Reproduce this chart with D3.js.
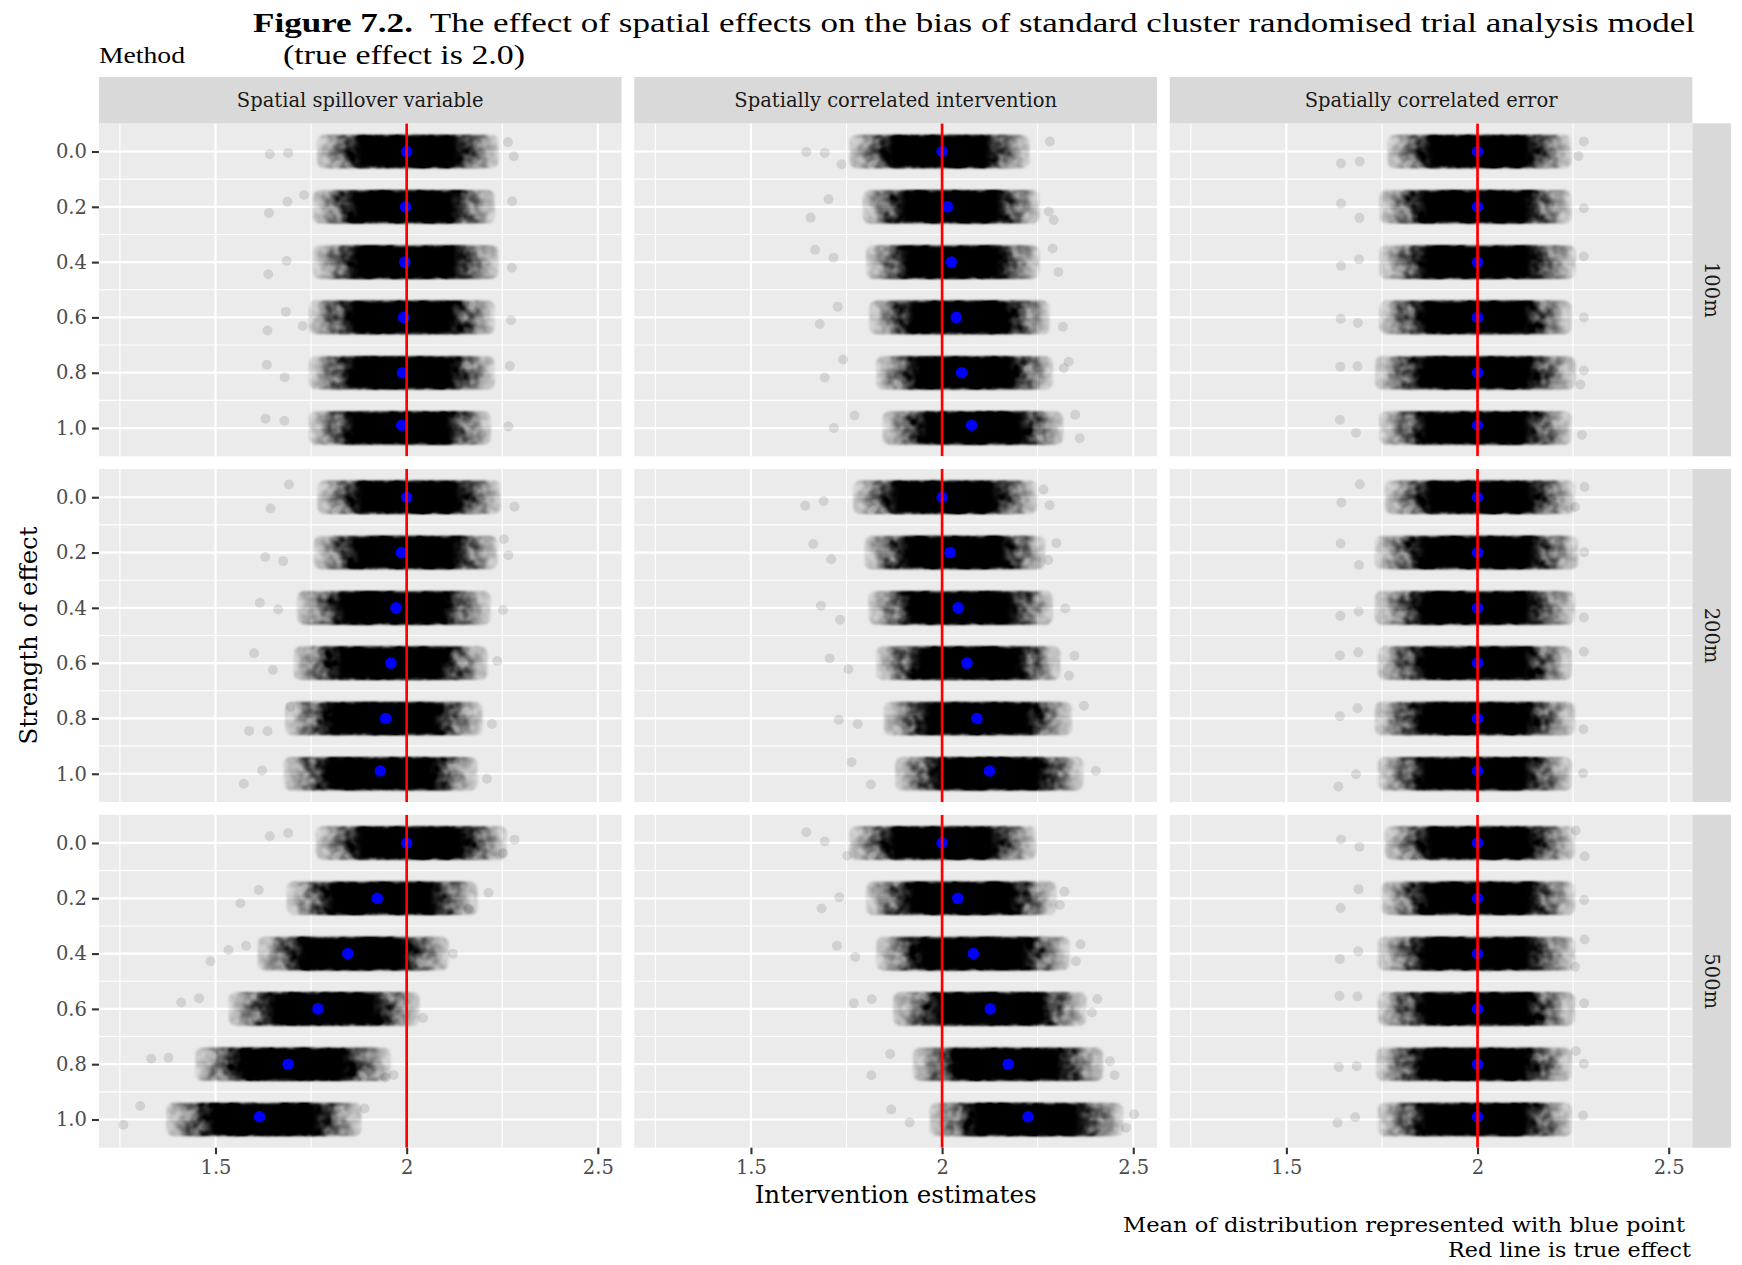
<!DOCTYPE html>
<html><head><meta charset="utf-8">
<script src="https://cdn.jsdelivr.net/npm/d3@7/dist/d3.min.js"></script>
<style>body{margin:0;background:#fff} svg{display:block}</style>
</head><body>
<svg id="chart" width="1742" height="1265"></svg>
<script>
// ---------------- DATA ----------------
const methods = ["Spatial spillover variable", "Spatially correlated intervention", "Spatially correlated error"];
const distances = ["100m", "200m", "500m"];
const strengths = [0.0, 0.2, 0.4, 0.6, 0.8, 1.0];
const meanStrengths = [0.0, 0.2, 0.4, 0.6, 0.8, 0.99];
const xTicks = [1.5, 2, 2.5];
const xTickLabels = ["1.5", "2", "2.5"];
const xMinor = [1.25, 1.75, 2.25];
const yTicks = [0.0, 0.2, 0.4, 0.6, 0.8, 1.0];
const yTickLabels = ["0.0", "0.2", "0.4", "0.6", "0.8", "1.0"];
const yMinor = [0.1, 0.3, 0.5, 0.7, 0.9];
const trueEffect = 2.0;

// means (blue points)
const spill100Mean = [2.000, 1.997, 1.995, 1.992, 1.989, 1.987];
const spill200Mean = [2.000, 1.986, 1.972, 1.959, 1.945, 1.931];
const spill500Mean = [2.000, 1.923, 1.846, 1.768, 1.690, 1.615];
const int100Mean = [2.000, 2.014, 2.024, 2.037, 2.051, 2.077];
const int200Mean = [2.000, 2.021, 2.042, 2.065, 2.091, 2.124];
const int500Mean = [2.000, 2.041, 2.082, 2.126, 2.173, 2.225];
const err100Mean = [2.000, 2.000, 2.000, 2.000, 2.000, 2.000];
const err200Mean = [2.000, 2.000, 2.000, 2.000, 2.000, 2.000];
const err500Mean = [2.000, 2.000, 2.000, 2.000, 2.000, 2.000];

// visible extent of each jittered cloud
const spill100Lo = [1.765, 1.754, 1.754, 1.744, 1.744, 1.744];
const spill100Hi = [2.241, 2.231, 2.241, 2.231, 2.231, 2.221];
const spill200Lo = [1.766, 1.757, 1.713, 1.704, 1.682, 1.678];
const spill200Hi = [2.247, 2.238, 2.220, 2.212, 2.199, 2.185];
const spill500Lo = [1.762, 1.686, 1.610, 1.534, 1.447, 1.371];
const spill500Hi = [2.262, 2.186, 2.110, 2.034, 1.958, 1.882];
const int100Lo = [1.757, 1.792, 1.801, 1.809, 1.827, 1.844];
const int100Hi = [2.229, 2.255, 2.255, 2.282, 2.290, 2.317];
const int200Lo = [1.767, 1.797, 1.807, 1.827, 1.847, 1.877];
const int200Hi = [2.249, 2.270, 2.290, 2.310, 2.340, 2.370];
const int500Lo = [1.757, 1.801, 1.827, 1.871, 1.923, 1.967];
const int500Hi = [2.247, 2.299, 2.334, 2.378, 2.422, 2.474];
const err100Lo = [1.764, 1.743, 1.743, 1.743, 1.732, 1.743];
const err100Hi = [2.246, 2.246, 2.257, 2.246, 2.257, 2.246];
const err200Lo = [1.757, 1.731, 1.731, 1.739, 1.731, 1.739];
const err200Hi = [2.255, 2.264, 2.255, 2.247, 2.255, 2.247];
const err500Lo = [1.757, 1.748, 1.739, 1.739, 1.735, 1.739];
const err500Hi = [2.255, 2.255, 2.255, 2.255, 2.247, 2.247];

// isolated points: [strength, estimate, vertical jitter]
const spill100Out = [[0,1.642,0.010],[0,1.690,0.005],[0,2.280,0.017],[0,2.265,-0.034],
 [0.2,1.640,0.022],[0.2,1.688,-0.018],[0.2,1.732,-0.043],[0.2,2.276,-0.020],
 [0.4,1.638,0.044],[0.4,1.686,-0.004],[0.4,2.275,0.020],
 [0.6,1.636,0.047],[0.6,1.684,-0.020],[0.6,1.728,0.031],[0.6,2.273,0.010],
 [0.8,1.634,-0.029],[0.8,1.681,0.016],[0.8,2.270,-0.024],
 [1.0,1.631,-0.034],[1.0,1.680,-0.026],[1.0,2.266,-0.006]];
const spill200Out = [[0,1.692,-0.046],[0,1.644,0.041],[0,2.282,0.034],
 [0.2,1.630,0.016],[0.2,1.677,0.031],[0.2,2.266,0.010],[0.2,2.254,-0.048],
 [0.4,1.616,-0.018],[0.4,1.664,0.006],[0.4,2.252,0.008],
 [0.6,1.601,-0.036],[0.6,1.650,0.025],[0.6,2.237,-0.008],
 [0.8,1.588,0.045],[0.8,1.636,0.046],[0.8,1.696,-0.042],[0.8,2.223,0.020],
 [1.0,1.574,0.036],[1.0,1.622,-0.012],[1.0,2.210,0.018]];
const spill500Out = [[0,1.642,-0.024],[0,1.690,-0.036],[0,2.282,-0.012],[0,2.252,0.037],
 [0.2,1.565,0.018],[0.2,1.613,-0.030],[0.2,2.214,-0.020],[0.2,2.162,0.039],
 [0.4,1.487,0.028],[0.4,1.534,-0.013],[0.4,1.580,-0.028],[0.4,2.121,0.001],
 [0.6,1.410,-0.023],[0.6,1.457,-0.038],[0.6,2.043,0.033],
 [0.8,1.332,-0.020],[0.8,1.377,-0.023],[0.8,1.966,0.039],[0.8,1.945,0.048],
 [1.0,1.259,0.019],[1.0,1.303,-0.049],[1.0,1.890,-0.040]];
const int100Out = [[0,1.645,0.002],[0,1.693,0.005],[0,1.737,0.046],[0,2.282,-0.036],
 [0.2,1.703,-0.027],[0.2,1.656,0.039],[0.2,2.292,0.048],[0.2,2.279,0.017],
 [0.4,1.668,-0.045],[0.4,1.716,-0.016],[0.4,2.304,0.036],[0.4,2.289,-0.049],
 [0.6,1.727,-0.039],[0.6,1.680,0.024],[0.6,2.316,0.034],
 [0.8,1.741,-0.048],[0.8,1.693,0.017],[0.8,2.331,-0.040],[0.8,2.318,-0.016],
 [1.0,1.717,0.000],[1.0,1.771,-0.045],[1.0,2.348,-0.048],[1.0,2.360,0.037]];
const int200Out = [[0,1.642,0.031],[0,1.690,0.014],[0,2.281,0.029],[0,2.265,-0.028],
 [0.2,1.663,-0.031],[0.2,1.710,0.024],[0.2,2.299,-0.034],[0.2,2.278,0.027],
 [0.4,1.683,-0.008],[0.4,1.733,0.043],[0.4,2.322,0.002],
 [0.6,1.706,-0.017],[0.6,1.755,0.022],[0.6,2.346,-0.027],[0.6,2.332,0.045],
 [0.8,1.730,0.005],[0.8,1.779,0.020],[0.8,2.371,-0.046],
 [1.0,1.763,-0.042],[1.0,1.814,0.039],[1.0,2.402,-0.011]];
const int500Out = [[0,1.645,-0.039],[0,1.693,-0.005],[0,1.752,0.046],
 [0.2,1.685,0.037],[0.2,1.731,-0.004],[0.2,2.320,-0.024],[0.2,2.308,0.024],
 [0.4,1.725,-0.028],[0.4,1.773,0.012],[0.4,2.362,-0.034],[0.4,2.350,0.028],
 [0.6,1.769,-0.020],[0.6,1.816,-0.035],[0.6,2.406,-0.036],[0.6,2.392,0.013],
 [0.8,1.815,0.040],[0.8,1.864,-0.037],[0.8,2.451,0.040],[0.8,2.439,-0.011],
 [1.0,1.867,-0.036],[1.0,1.915,0.011],[1.0,2.502,-0.019],[1.0,2.481,0.030]];
const err100Out = [[0,1.643,0.043],[0,1.692,0.036],[0,2.278,-0.036],[0,2.264,0.016],
 [0.2,1.643,-0.012],[0.2,1.691,0.040],[0.2,2.278,0.005],
 [0.4,1.643,0.013],[0.4,1.690,-0.010],[0.4,2.278,-0.020],
 [0.6,1.642,0.005],[0.6,1.687,0.020],[0.6,2.278,0.000],
 [0.8,1.641,-0.022],[0.8,1.686,-0.023],[0.8,2.278,-0.008],[0.8,2.269,0.043],
 [1.0,1.640,-0.030],[1.0,1.682,0.017],[1.0,2.273,0.025]];
const err200Out = [[0,1.692,-0.047],[0,1.644,0.019],[0,2.280,-0.037],[0,2.255,0.035],
 [0.2,1.642,-0.033],[0.2,1.690,0.045],[0.2,2.279,-0.001],
 [0.4,1.641,0.029],[0.4,1.689,0.013],[0.4,2.278,0.035],
 [0.6,1.640,-0.028],[0.6,1.688,-0.039],[0.6,2.278,-0.041],
 [0.8,1.640,-0.008],[0.8,1.686,-0.037],[0.8,2.277,0.039],
 [1.0,1.636,0.046],[1.0,1.682,0.002],[1.0,2.276,-0.002]];
const err500Out = [[0,1.643,-0.013],[0,1.691,0.014],[0,2.280,0.048],[0,2.257,-0.045],
 [0.2,1.642,0.035],[0.2,1.689,-0.033],[0.2,2.279,0.006],
 [0.4,1.640,0.020],[0.4,1.688,-0.008],[0.4,2.280,-0.051],[0.4,2.255,0.048],
 [0.6,1.639,-0.047],[0.6,1.686,-0.045],[0.6,2.279,-0.020],
 [0.8,1.637,0.010],[0.8,1.684,0.007],[0.8,2.278,-0.002],[0.8,2.257,-0.048],
 [1.0,1.634,0.012],[1.0,1.680,-0.008],[1.0,2.276,-0.014]];

// panel table built from the arrays (rows = distance, cols = method)
const panels = [
  [ {mean:spill100Mean, lo:spill100Lo, hi:spill100Hi, out:spill100Out},
    {mean:int100Mean,   lo:int100Lo,   hi:int100Hi,   out:int100Out},
    {mean:err100Mean,   lo:err100Lo,   hi:err100Hi,   out:err100Out} ],
  [ {mean:spill200Mean, lo:spill200Lo, hi:spill200Hi, out:spill200Out},
    {mean:int200Mean,   lo:int200Lo,   hi:int200Hi,   out:int200Out},
    {mean:err200Mean,   lo:err200Lo,   hi:err200Hi,   out:err200Out} ],
  [ {mean:spill500Mean, lo:spill500Lo, hi:spill500Hi, out:spill500Out},
    {mean:int500Mean,   lo:int500Lo,   hi:int500Hi,   out:int500Out},
    {mean:err500Mean,   lo:err500Lo,   hi:err500Hi,   out:err500Out} ]
];

// ---------------- LAYOUT ----------------
const svg = d3.select("#chart");
const serif = "'DejaVu Serif', serif";
const titleFont = "'Liberation Serif', serif";
const plotLeft = 98.9, plotRight = 1692.4, plotTop = 123.3, plotBottom = 1147.7, gap = 12.8;
const panelW = (plotRight - plotLeft - 2 * gap) / 3;
const panelH = (plotBottom - plotTop - 2 * gap) / 3;

const colScale = d3.scaleBand().domain(methods).range([plotLeft, plotRight])
  .paddingInner(gap / (panelW + gap)).paddingOuter(0);
const rowScale = d3.scaleBand().domain(distances).range([plotTop, plotBottom])
  .paddingInner(gap / (panelH + gap)).paddingOuter(0);

const x = d3.scaleLinear().domain([1.195, 2.562]).range([0, panelW]);
const y = d3.scaleLinear().domain([-0.102, 1.102]).range([0, panelH]);

svg.append("rect").attr("width", 1742).attr("height", 1265).attr("fill", "#fff");

const defs = svg.append("defs");
function gradient(id, stops) {
  const gr = defs.append("linearGradient").attr("id", id)
    .attr("x1", "0").attr("x2", "1").attr("y1", "0").attr("y2", "0");
  stops.forEach(([o, a]) => gr.append("stop").attr("offset", o).attr("stop-color", "#000").attr("stop-opacity", a));
}
gradient("fringeGrad", [[0,0.12],[0.05,0.26],[0.1,0.48],[0.17,0.72],[0.25,0.9],[0.32,1],[0.68,1],[0.75,0.9],[0.83,0.72],[0.9,0.48],[0.95,0.26],[1,0.12]]);
gradient("coreGrad", [[0,0],[0.13,1],[0.87,1],[1,0]]);

const fN = defs.append("filter").attr("id", "noisy").attr("x", "-6%").attr("y", "-40%").attr("width", "112%").attr("height", "180%");
fN.append("feGaussianBlur").attr("in", "SourceGraphic").attr("stdDeviation", 1.3).attr("result", "b");
fN.append("feTurbulence").attr("type", "fractalNoise").attr("baseFrequency", 0.085).attr("numOctaves", 2).attr("seed", 7).attr("result", "n");
fN.append("feColorMatrix").attr("in", "n").attr("type", "matrix")
  .attr("values", "0 0 0 0 0  0 0 0 0 0  0 0 0 0 0  1.7 0 0 0 -0.45").attr("result", "na");
fN.append("feComposite").attr("in", "b").attr("in2", "na").attr("operator", "arithmetic")
  .attr("k1", 1).attr("k2", 0.55).attr("k3", 0).attr("k4", 0);
const fS = defs.append("filter").attr("id", "soft").attr("x", "-10%").attr("y", "-40%").attr("width", "120%").attr("height", "180%");
fS.append("feGaussianBlur").attr("stdDeviation", 1.2);

const bandHalf = 16.8;   // px half-height of jitter band (incl. point radius)
const ptR = 5, meanR = 5.8;
const coreInset = 0.16;  // share of the envelope width covered only by the fringe

distances.forEach((dist, ri) => {
  methods.forEach((meth, ci) => {
    const P = panels[ri][ci];
    const g = svg.append("g").attr("transform", `translate(${colScale(meth)},${rowScale(dist)})`);
    const cid = `clip${ri}${ci}`;
    defs.append("clipPath").attr("id", cid).append("rect").attr("width", panelW).attr("height", panelH);
    g.append("rect").attr("width", panelW).attr("height", panelH).attr("fill", "#EBEBEB");
    // minor grid
    g.selectAll(".vmin").data(xMinor).join("line").attr("x1", d => x(d)).attr("x2", d => x(d))
      .attr("y1", 0).attr("y2", panelH).attr("stroke", "#fff").attr("stroke-width", 1.1);
    g.selectAll(".hmin").data(yMinor).join("line").attr("y1", d => y(d)).attr("y2", d => y(d))
      .attr("x1", 0).attr("x2", panelW).attr("stroke", "#fff").attr("stroke-width", 1.1);
    // major grid
    g.selectAll(".vmaj").data(xTicks).join("line").attr("x1", d => x(d)).attr("x2", d => x(d))
      .attr("y1", 0).attr("y2", panelH).attr("stroke", "#fff").attr("stroke-width", 2.2);
    g.selectAll(".hmaj").data(yTicks).join("line").attr("y1", d => y(d)).attr("y2", d => y(d))
      .attr("x1", 0).attr("x2", panelW).attr("stroke", "#fff").attr("stroke-width", 2.2);

    const inner = g.append("g").attr("clip-path", `url(#${cid})`);
    // isolated points
    inner.selectAll(".out").data(P.out).join("circle")
      .attr("cx", d => x(d[1])).attr("cy", d => y(d[0] + d[2])).attr("r", ptR)
      .attr("fill", "#000").attr("fill-opacity", 0.11);
    // dense clouds: fringe (textured) + solid core
    inner.selectAll(".fringe").data(strengths).join("rect")
      .attr("x", (d, i) => x(P.lo[i])).attr("width", (d, i) => x(P.hi[i]) - x(P.lo[i]))
      .attr("y", d => y(d) - bandHalf).attr("height", 2 * bandHalf)
      .attr("rx", 7).attr("fill", "url(#fringeGrad)").attr("filter", "url(#noisy)");
    const cLo = i => P.lo[i] + coreInset * (P.hi[i] - P.lo[i]);
    const cHi = i => P.hi[i] - coreInset * (P.hi[i] - P.lo[i]);
    inner.selectAll(".core").data(strengths).join("rect")
      .attr("x", (d, i) => x(cLo(i))).attr("width", (d, i) => x(cHi(i)) - x(cLo(i)))
      .attr("y", d => y(d) - bandHalf + 1.5).attr("height", 2 * bandHalf - 3)
      .attr("rx", 5).attr("fill", "url(#coreGrad)").attr("filter", "url(#soft)");
    // means
    inner.selectAll(".mean").data(meanStrengths).join("circle")
      .attr("cx", (d, i) => x(P.mean[i])).attr("cy", d => y(d)).attr("r", meanR).attr("fill", "#0000FF");
    // true effect line
    inner.append("line").attr("x1", x(trueEffect)).attr("x2", x(trueEffect))
      .attr("y1", 0).attr("y2", panelH).attr("stroke", "#FF0000").attr("stroke-width", 2.7);

    // y axis on first column
    if (ci === 0) {
      const ax = g.append("g").call(d3.axisLeft(y).tickValues(yTicks)
        .tickFormat((d, i) => yTickLabels[i]).tickSize(7).tickPadding(5));
      ax.select(".domain").remove();
      ax.selectAll(".tick line").attr("stroke", "#333333").attr("stroke-width", 2.1);
      ax.selectAll(".tick text").attr("fill", "#4D4D4D").style("font-family", serif).style("font-size", "19.5px");
    }
    // x axis on bottom row
    if (ri === distances.length - 1) {
      const ax = g.append("g").attr("transform", `translate(0,${panelH})`)
        .call(d3.axisBottom(x).tickValues(xTicks).tickFormat((d, i) => xTickLabels[i]).tickSize(6.5).tickPadding(6));
      ax.select(".domain").remove();
      ax.selectAll(".tick line").attr("stroke", "#333333").attr("stroke-width", 2.1);
      ax.selectAll(".tick text").attr("fill", "#4D4D4D").style("font-family", serif).style("font-size", "19.5px");
    }
  });
});

// top strips
const stripTop = 77, stripH = plotTop - stripTop;
methods.forEach(m => {
  svg.append("rect").attr("x", colScale(m)).attr("y", stripTop).attr("width", panelW).attr("height", stripH).attr("fill", "#D9D9D9");
  svg.append("text").attr("x", colScale(m) + panelW / 2).attr("y", stripTop + stripH / 2).attr("dy", "0.36em")
    .attr("text-anchor", "middle").attr("fill", "#1A1A1A").style("font-family", serif).style("font-size", "19.5px").text(m);
});
// right strips
const rStripW = 38.5;
distances.forEach(d => {
  svg.append("rect").attr("x", plotRight).attr("y", rowScale(d)).attr("width", rStripW).attr("height", panelH).attr("fill", "#D9D9D9");
  svg.append("text").attr("transform", `translate(${plotRight + rStripW / 2},${rowScale(d) + panelH / 2}) rotate(90)`)
    .attr("dy", "0.36em").attr("text-anchor", "middle").attr("fill", "#1A1A1A")
    .style("font-family", serif).style("font-size", "19.5px").text(d);
});

// titles
const t1 = svg.append("text").attr("x", 253).attr("y", 32).attr("fill", "#000")
  .style("font-family", titleFont).style("font-size", "28px")
  .attr("textLength", 1442).attr("lengthAdjust", "spacingAndGlyphs");
t1.append("tspan").attr("font-weight", "bold").text("Figure 7.2.");
t1.append("tspan").text("\u00a0 The effect of spatial effects on the bias of standard cluster randomised trial analysis model");
svg.append("text").attr("x", 283).attr("y", 64).style("font-family", titleFont).style("font-size", "28px")
  .attr("textLength", 242).attr("lengthAdjust", "spacingAndGlyphs").text("(true effect is 2.0)");
svg.append("text").attr("x", 99).attr("y", 63).style("font-family", titleFont).style("font-size", "23px")
  .attr("textLength", 86).attr("lengthAdjust", "spacingAndGlyphs").text("Method");

// axis titles
svg.append("text").attr("x", (plotLeft + plotRight) / 2).attr("y", 1203).attr("text-anchor", "middle")
  .style("font-family", serif).style("font-size", "24px").attr("textLength", 282).attr("lengthAdjust", "spacingAndGlyphs")
  .text("Intervention estimates");
svg.append("text").attr("transform", `translate(28,${(plotTop + plotBottom) / 2}) rotate(-90)`).attr("dy", "0.36em")
  .attr("text-anchor", "middle").style("font-family", serif).style("font-size", "24px")
  .attr("textLength", 218).attr("lengthAdjust", "spacingAndGlyphs").text("Strength of effect");

// caption
svg.append("text").attr("x", 1685).attr("y", 1232).attr("text-anchor", "end")
  .style("font-family", serif).style("font-size", "21px").attr("textLength", 562).attr("lengthAdjust", "spacingAndGlyphs")
  .text("Mean of distribution represented with blue point");
svg.append("text").attr("x", 1691).attr("y", 1257).attr("text-anchor", "end")
  .style("font-family", serif).style("font-size", "21px").attr("textLength", 243).attr("lengthAdjust", "spacingAndGlyphs")
  .text("Red line is true effect");
</script>
</body></html>
